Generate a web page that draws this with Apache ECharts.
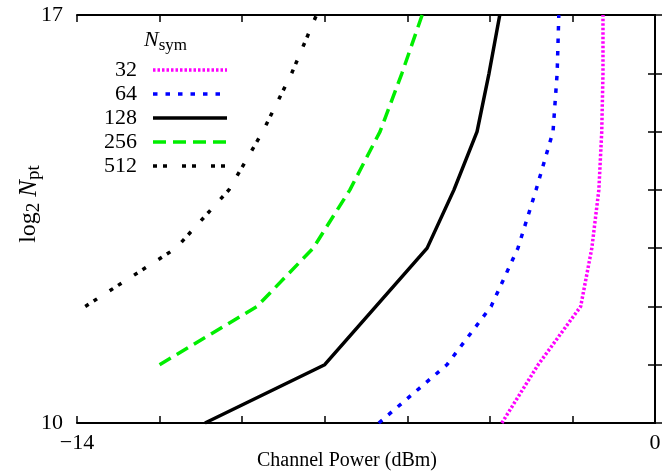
<!DOCTYPE html>
<html>
<head>
<meta charset="utf-8">
<script src="https://cdn.jsdelivr.net/npm/echarts@6/dist/echarts.min.js"></script>
<style>
  html, body { margin: 0; padding: 0; background: #fff; }
  #chart { width: 663px; height: 474px; }
</style>
</head>
<body>
<div id="chart"></div>
<script>
// log2 Npt levels (y) and channel power (dBm) read for each Nsym curve
const yLevels = [10, 11, 12, 13, 14, 15, 16, 17]
const sym32 = [-3.71, -2.83, -1.8, -1.53, -1.36, -1.29, -1.26, -1.26]
const sym64 = [-6.69, -5.04, -3.97, -3.32, -2.88, -2.47, -2.37, -2.33]
const sym128 = [-10.9, -8.0, -6.76, -5.52, -4.87, -4.31, -4.02, -3.76]
const sym256 = [-12.0, -9.64, -8.28, -7.39, -6.66, -6.13, -5.64] // from y = 11
const sym512 = [-13.8, -11.6, -10.32, -9.5, -8.8, -8.2] // from y = 12

const font = 'Liberation Serif'

// pair x values with the top of the y levels list
function pairs(xs) {
  const ys = yLevels.slice(yLevels.length - xs.length)
  return xs.map((x, i) => [x, ys[i]])
}

const chart = echarts.init(document.getElementById('chart'))

const axisLine = { lineStyle: { color: '#000', width: 2 } }
const tick = { inside: true, length: 7, lineStyle: { color: '#000', width: 1.5 } }

function mkSeries(name, xs, color, width, dash) {
  return {
    name: name,
    type: 'line',
    data: pairs(xs),
    symbol: 'none',
    animation: false,
    lineStyle: { color: color, width: width, type: dash },
    itemStyle: { color: color },
  }
}

const option = {
  animation: false,
  grid: { left: 77, right: 8, top: 15, bottom: 51, outerBoundsMode: 'none' },
  title: {
    text: '{it|N}{sub|sym}',
    left: 139,
    top: 22,
    textStyle: {
      fontWeight: 'normal',
      rich: {
        it: { fontFamily: font, fontStyle: 'italic', fontWeight: 'normal', fontSize: 22, color: '#000' },
        sub: { fontFamily: font, fontWeight: 'normal', fontSize: 17, color: '#000', padding: [10, 0, 0, 0] },
      },
    },
  },
  legend: {
    data: ['32', '64', '128', '256', '512'],
    orient: 'vertical',
    left: 92,
    top: 54,
    align: 'right',
    itemWidth: 74,
    itemHeight: 14,
    itemGap: 2,
    itemStyle: { opacity: 0 },
    lineStyle: { width: 3.5 },
    formatter: (n) => '{a|' + n + '}',
    textStyle: {
      rich: {
        a: {
          fontFamily: font,
          fontSize: 22,
          color: '#000',
          width: 40,
          align: 'right',
          lineHeight: 21,
          padding: [0, 11, 0, 0],
        },
      },
    },
  },
  xAxis: [
    {
      type: 'value',
      position: 'bottom',
      min: -14,
      max: 0,
      interval: 2,
      splitLine: { show: false },
      axisLine: axisLine,
      axisTick: tick,
      axisLabel: {
        showMinLabel: true,
        showMaxLabel: true,
        margin: 9,
        fontFamily: font,
        fontSize: 22,
        color: '#000',
        formatter: (v) => (v === -14 ? '\u221214' : v === 0 ? '0' : ''),
      },
      name: 'Channel Power (dBm)',
      nameLocation: 'middle',
      nameGap: 28,
      nameMoveOverlap: false,
      nameTextStyle: { fontFamily: font, fontSize: 20, color: '#000', padding: [0, 38, 0, 0] },
    },
    {
      type: 'value',
      position: 'top',
      min: -14,
      max: 0,
      interval: 2,
      splitLine: { show: false },
      axisLine: axisLine,
      axisTick: tick,
      axisLabel: { show: false },
    },
  ],
  yAxis: [
    {
      type: 'value',
      position: 'left',
      min: 10,
      max: 17,
      interval: 1,
      splitLine: { show: false },
      axisLine: axisLine,
      axisTick: tick,
      axisLabel: {
        showMinLabel: true,
        showMaxLabel: true,
        margin: 14,
        fontFamily: font,
        fontSize: 22,
        color: '#000',
        formatter: (v) => (v === 10 || v === 17 ? String(v) : ''),
      },
      name: '{n|log}{sub|2}{n| }{it|N}{sub|pt}',
      nameLocation: 'middle',
      nameRotate: 90,
      nameGap: 33,
      nameMoveOverlap: false,
      nameTextStyle: {
        fontFamily: font,
        fontSize: 24,
        color: '#000',
        padding: [0, 0, 0, 30],
        rich: {
          n: { fontFamily: font, fontSize: 24, color: '#000' },
          it: { fontFamily: font, fontStyle: 'italic', fontSize: 25, color: '#000' },
          sub: { fontFamily: font, fontSize: 19, color: '#000', padding: [11, 0, 0, 0] },
        },
      },
    },
    {
      type: 'value',
      position: 'right',
      min: 10,
      max: 17,
      interval: 1,
      splitLine: { show: false },
      axisLine: axisLine,
      axisTick: tick,
      axisLabel: { show: false },
    },
  ],
  series: [
    mkSeries('32', sym32, '#ff00ff', 3.5, [2.5, 2]),
    mkSeries('64', sym64, '#0000ff', 3.5, [4.5, 8]),
    mkSeries('128', sym128, '#000000', 3.5, 'solid'),
    mkSeries('256', sym256, '#00ee00', 3.5, [13, 7]),
    mkSeries('512', sym512, '#000000', 3.5, [4, 6, 4, 15]),
  ],
}

chart.setOption(option)
</script>
</body>
</html>
